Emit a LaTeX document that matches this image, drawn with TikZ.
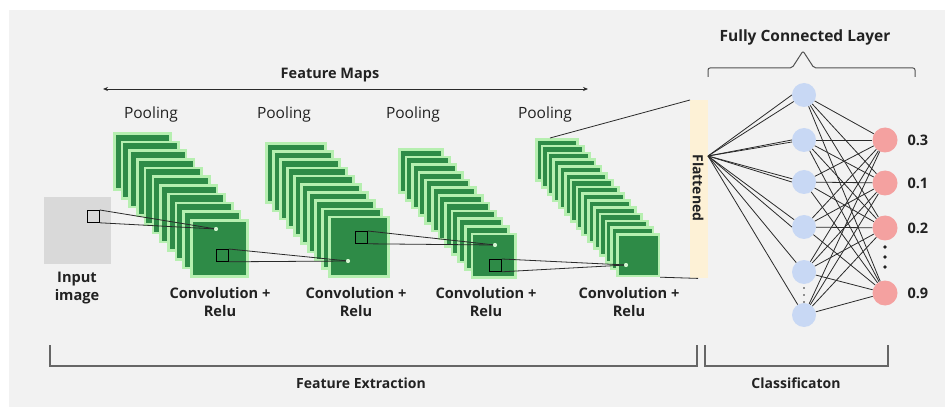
\documentclass[tikz,border=0pt]{standalone}
\usepackage{fontspec}
\setmainfont{Open Sans}
\usetikzlibrary{arrows.meta}

\definecolor{panel}{HTML}{F2F2F2}
\definecolor{dkgreen}{HTML}{2E8B47}
\definecolor{ltgreen}{HTML}{B6EFB0}
\definecolor{inputgray}{HTML}{D9D9D9}
\definecolor{flatc}{HTML}{FDF1D6}
\definecolor{bluenode}{HTML}{C8D8F4}
\definecolor{rednode}{HTML}{F4A1A0}
\definecolor{ink}{HTML}{222222}
\definecolor{wire}{HTML}{2A2A2A}
\definecolor{bracketc}{HTML}{666666}

\begin{document}
\begin{tikzpicture}[x=1pt,y=-1pt,
  every node/.style={text=ink, font=\fontsize{15.5}{18}\selectfont},
  layer/.style={fill=dkgreen, draw=ltgreen, line width=2.6pt, inner sep=0pt, anchor=north west},
  kernel/.style={draw=black, line width=0.8pt, inner sep=0pt, minimum size=12pt, anchor=north west},
  featdot/.style={circle, fill=ltgreen!60!white, inner sep=0pt, minimum size=4pt},
  conn/.style={draw=wire, line width=0.8pt},
  bnode/.style={circle, fill=bluenode, inner sep=0pt, minimum size=24pt},
  rnode/.style={circle, fill=rednode, inner sep=0pt, minimum size=25pt},
  lbl/.style={font=\bfseries\fontsize{14.6}{18}\selectfont, align=center},
  val/.style={font=\bfseries\fontsize{14.5}{17}\selectfont, anchor=west},
  bracketline/.style={draw=bracketc, line width=1.1pt},
]
\useasboundingbox (0,0) rectangle (945,414);
\fill[white] (0,0) rectangle (945,414);
\fill[panel] (9,10) rectangle (945,407);

% feature map stacks: back layer corner, step, size, last index
\foreach \k/\x/\y/\dx/\dy/\s/\n in {1/113/132/7.7/8.7/56.4/10, 2/265/142/7/8.2/59.4/9, 3/398/148/6.6/7.7/43.4/11, 4/535/138/5.8/6.8/41.4/14}{
  \foreach \i in {0,...,\n}{
    \node[layer, minimum size=\s pt] (st\k-\i) at (\x+\i*\dx, \y+\i*\dy) {};
  }
}

% input image
\node[fill=inputgray, inner sep=0pt, minimum size=67pt, anchor=north west] (inimg) at (44,197) {};

% receptive fields
\node[kernel] (k1) at (87,210) {};
\node[kernel] (k2) at (216,249) {};
\node[kernel] (k3) at (355,231) {};
\node[kernel] (k4) at (489,259) {};
\node[featdot] (d1) at (216,229) {};
\node[featdot] (d2) at (348,261) {};
\node[featdot] (d3) at (495,245) {};
\node[featdot] (d4) at (626,265) {};
\foreach \i in {1,...,4}{
  \draw[conn] (k\i.north east) -- (d\i.center);
  \draw[conn] (k\i.south east) -- (d\i.center);
}
\foreach \i in {1,...,4}{ \node[featdot] at (d\i) {}; }

% labels of the convolution part
\coordinate (fmL) at (103,89);
\coordinate (fmR) at (588,89);
\draw[draw=wire, line width=0.8pt, {Stealth[length=5pt,width=4pt]}-{Stealth[length=5pt,width=4pt]}] (fmL) -- (fmR);
\node[font=\bfseries\fontsize{14.5}{17}\selectfont] (fmap) at (330,75) {Feature Maps};

\node (pool1) at (151,114) {Pooling};
\node (pool2) at (284,114) {Pooling};
\node (pool3) at (413,114) {Pooling};
\node (pool4) at (545,114) {Pooling};

\node[lbl] (conv1) at (220,302) {Convolution +\\Relu};
\node[lbl] (conv2) at (356,302) {Convolution +\\Relu};
\node[lbl] (conv3) at (486,302) {Convolution +\\Relu};
\node[lbl] (conv4) at (629,302) {Convolution +\\Relu};
\node[lbl] (inlbl) at (77,288) {Input\\image};

% flattened vector
\node[fill=flatc, inner sep=0pt, minimum width=18pt, minimum height=178pt, anchor=north west] (flat) at (690,100) {};
\node[rotate=-90, font=\bfseries\fontsize{14}{16}\selectfont] (flatlbl) at (698,188) {Flattened};
\draw[conn] ([xshift=15pt]st4-0.north west) -- (flat.north west);
\draw[conn] (st4-14.south east) -- ([xshift=8pt]flat.south west);

% fully connected layer
\coordinate (fan) at (708,156);
\node[bnode] (b1) at (804,95) {};
\node[bnode] (b2) at (804,140) {};
\node[bnode] (b3) at (804,182) {};
\node[bnode] (b4) at (804,227) {};
\node[bnode] (b5) at (804,272) {};
\node[bnode] (b6) at (804,315) {};
\node[rnode] (r1) at (885,140) {};
\node[rnode] (r2) at (885,183) {};
\node[rnode] (r3) at (885,228) {};
\node[rnode] (r4) at (885,293) {};

\foreach \i in {1,...,6}{ \draw[conn] (fan) -- (b\i); }
\foreach \i in {1,...,4}{ \draw[conn] (fan) -- (b\i.west); }
\foreach \i in {1,...,6}{
  \foreach \j in {1,...,4}{ \draw[conn] (b\i) -- (r\j); }
}

\fill[ink] (885,247) circle (1.8);
\fill[ink] (885,257) circle (1.8);
\fill[ink] (885,267) circle (1.8);
\fill[wire] (804,288) circle (0.8);
\fill[wire] (804,295) circle (0.8);
\fill[wire] (804,302) circle (0.8);

\node[val] (v1) at (904,140) {0.3};
\node[val] (v2) at (904,183) {0.1};
\node[val] (v3) at (904,228) {0.2};
\node[val] (v4) at (904,293) {0.9};

% brace over the dense layer
\draw[draw=bracketc!80!black, line width=1pt, rounded corners=2pt]
  (708,77) -- (708,68) -- (792,68) -- (803,51) -- (814,68) -- (915,68) -- (915,77);
\node[font=\bfseries\fontsize{15.5}{18}\selectfont] (fcl) at (805,37) {Fully Connected Layer};

% section brackets
\draw[bracketline] (50,345) -- (50,366) -- (697,366) -- (697,345);
\draw[bracketline] (705,345) -- (705,366) -- (888,366) -- (888,345);
\node[font=\bfseries\fontsize{14}{17}\selectfont] (fext) at (361,383) {Feature Extraction};
\node[font=\bfseries\fontsize{14}{17}\selectfont] (cls) at (796,383) {Classificaton};
\end{tikzpicture}
\end{document}
